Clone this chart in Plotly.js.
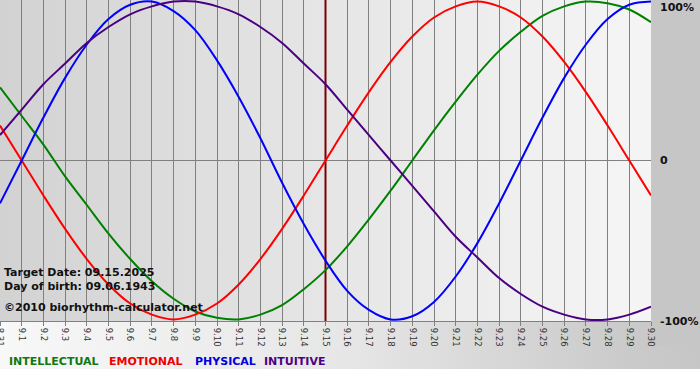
<!DOCTYPE html>
<html>
<head>
<meta charset="utf-8">
<script src="https://cdn.plot.ly/plotly-3.0.1.min.js"></script>
<style>
  html, body { margin: 0; padding: 0; width: 700px; height: 380px; overflow: hidden; background: #ffffff; }
  #outer { position: absolute; left: 0; top: 0; width: 700px; height: 369px;
           background: linear-gradient(to right, #f8f8f8 0%, #e6e6e6 50%, #cacaca 90%, #c6c6c6 100%); }
  #plotbg { position: absolute; left: 0; top: 0; width: 651px; height: 321px;
            background: linear-gradient(to right, #d2d2d2 0%, #e4e4e4 45%, #f1f1f1 85%, #f5f5f5 100%); }
  #right { position: absolute; left: 651px; top: 0; width: 49px; height: 345px; background: #c6c6c6; }
  #chart { position: absolute; left: 0; top: 0; width: 700px; height: 380px; }
</style>
</head>
<body>
<div id="outer"></div>
<div id="right"></div>
<div id="plotbg"></div>
<div id="chart"></div>
<script>
const dayLabels = ['8.31','9.1','9.2','9.3','9.4','9.5','9.6','9.7','9.8','9.9','9.10','9.11','9.12','9.13','9.14','9.15','9.16','9.17','9.18','9.19','9.20','9.21','9.22','9.23','9.24','9.25','9.26','9.27','9.28','9.29','9.30'];
const physical = [-0.27,0,0.27,0.52,0.73,0.89,0.98,1.00,0.94,0.82,0.63,0.40,0.14,-0.14,-0.40,-0.63,-0.82,-0.94,-1.00,-0.98,-0.89,-0.73,-0.52,-0.27,0,0.27,0.52,0.73,0.89,0.98,1.00];
const emotional = [0.22,0,-0.22,-0.43,-0.62,-0.78,-0.90,-0.97,-1.00,-0.97,-0.90,-0.78,-0.62,-0.43,-0.22,0,0.22,0.43,0.62,0.78,0.90,0.97,1.00,0.97,0.90,0.78,0.62,0.43,0.22,0,-0.22];
const intellectual = [0.46,0.28,0.10,-0.10,-0.28,-0.46,-0.62,-0.76,-0.87,-0.95,-0.99,-1.00,-0.97,-0.91,-0.81,-0.69,-0.54,-0.37,-0.19,0,0.19,0.37,0.54,0.69,0.81,0.91,0.97,1.00,0.99,0.95,0.87];
const intuitive = [0.16,0.32,0.48,0.61,0.74,0.84,0.92,0.97,1.00,1.00,0.97,0.92,0.84,0.74,0.61,0.48,0.32,0.16,0,-0.16,-0.32,-0.48,-0.61,-0.74,-0.84,-0.92,-0.97,-1.00,-1.00,-0.97,-0.92];
const targetIndex = 15;
const seriesNames = ['INTELLECTUAL','EMOTIONAL','PHYSICAL','INTUITIVE'];
const yTickText = ['100%','0','-100%'];
const infoLines = ['Target Date: 09.15.2025','Day of birth: 09.06.1943','\u00a92010 biorhythm-calculator.net'];

const xs = dayLabels.map((_, i) => i);
const colors = ['#008000','#ff0000','#0000ff','#4b0082'];
const series = [intellectual, emotional, physical, intuitive];
const yRange = [-1.01, 1.01];

const traces = [{
  x: [targetIndex, targetIndex], y: yRange, type: 'scatter', mode: 'lines',
  line: {color: '#7a0000', width: 2}, hoverinfo: 'skip', cliponaxis: true
}].concat(series.map((ys, k) => ({
  x: xs, y: ys, type: 'scatter', mode: 'lines', name: seriesNames[k],
  line: {color: colors[k], width: 2, shape: 'spline', smoothing: 1},
  hoverinfo: 'skip'
})));

const W = 651, H = 321;
const px = v => v / W;
const py = v => (H - v) / H;
const bold = {family: 'DejaVu Sans, Verdana, sans-serif', size: 11, color: '#111111'};

const annotations = [];
const yLabelPos = [7, 161, 322];
yTickText.forEach((t, i) => annotations.push({
  text: '<b>' + t + '</b>', xref: 'paper', yref: 'paper', x: px(658), y: py(yLabelPos[i]),
  xanchor: 'left', yanchor: 'middle', showarrow: false, font: bold
}));
const infoPos = [272, 286, 307];
infoLines.forEach((t, i) => annotations.push({
  text: '<b>' + t + '</b>', xref: 'paper', yref: 'paper', x: px(2), y: py(infoPos[i]),
  xanchor: 'left', yanchor: 'middle', showarrow: false, font: bold
}));
const legX = [7, 107, 193, 262];
const legColors = ['#107810','#ee0000','#0000dd','#4e0084'];
seriesNames.forEach((t, i) => annotations.push({
  text: '<b>' + t + '</b>', xref: 'paper', yref: 'paper', x: px(legX[i]), y: py(361),
  xanchor: 'left', yanchor: 'middle', showarrow: false,
  font: {family: 'DejaVu Sans, Verdana, sans-serif', size: 11, color: legColors[i]}
}));

const layout = {
  width: 700, height: 380,
  margin: {l: 0, r: 49, t: 0, b: 59, pad: 0},
  paper_bgcolor: 'rgba(0,0,0,0)', plot_bgcolor: 'rgba(0,0,0,0)',
  showlegend: false,
  xaxis: {
    range: [0, 30], tickvals: xs, ticktext: dayLabels, tickangle: 90,
    ticklabeloverflow: 'allow',
    showgrid: true, gridcolor: '#808080', gridwidth: 1,
    ticks: 'outside', ticklen: 4, tickcolor: '#808080',
    showline: true, linecolor: '#808080', linewidth: 1,
    zeroline: false, fixedrange: true,
    tickfont: {family: 'DejaVu Sans, Tahoma, sans-serif', size: 8.5, color: '#333333'}
  },
  yaxis: {
    range: yRange, showgrid: false, showticklabels: false, ticks: '',
    zeroline: true, zerolinecolor: '#808080', zerolinewidth: 1, fixedrange: true
  },
  annotations: annotations
};

Plotly.newPlot('chart', traces, layout, {displayModeBar: false, staticPlot: true});
</script>
</body>
</html>
